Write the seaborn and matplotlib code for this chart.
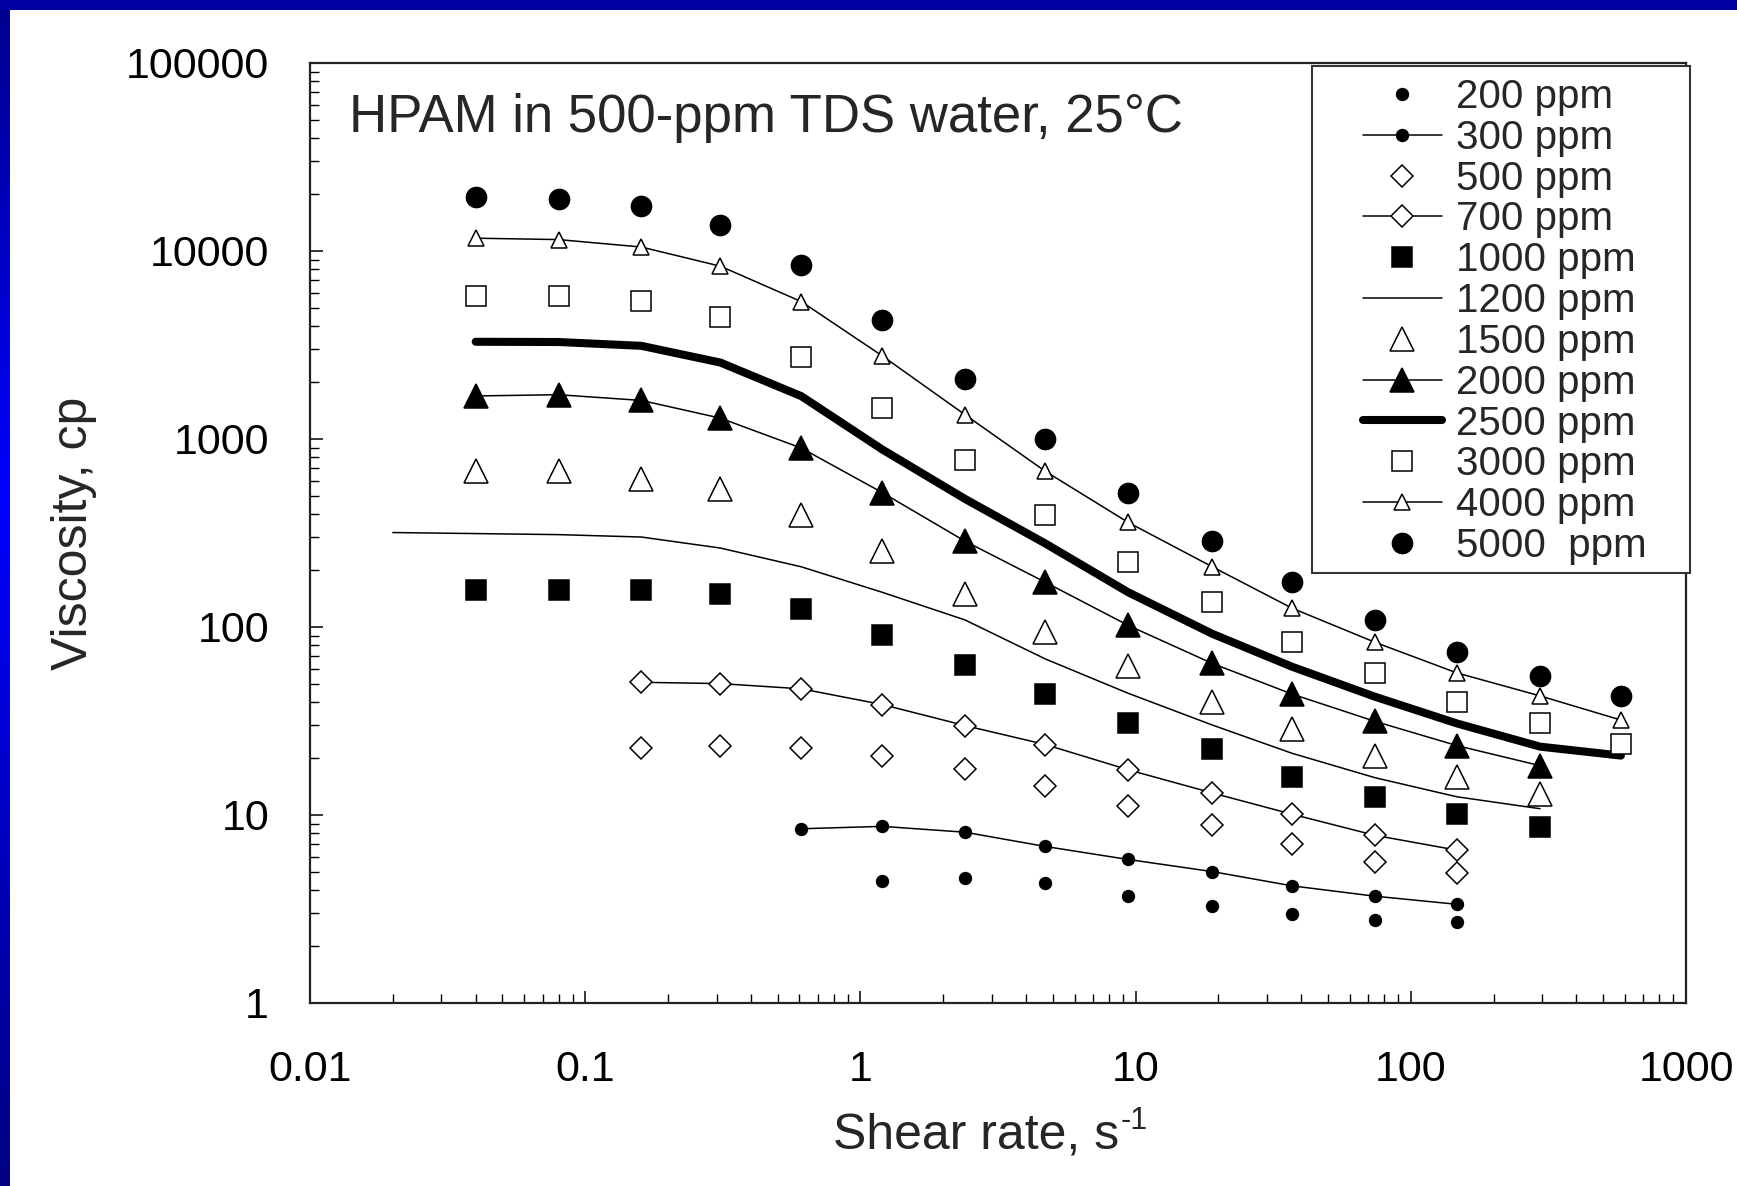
import numpy as np
import pandas as pd
import matplotlib
matplotlib.use("Agg")
import matplotlib.pyplot as plt
from matplotlib.colors import LinearSegmentedColormap
from matplotlib.patches import Rectangle
from matplotlib.ticker import LogLocator, NullFormatter
import seaborn as sns

# shear rates (1/s) used by the measurements
shear = [0.04, 0.08, 0.16, 0.31, 0.61, 1.2, 2.4, 4.7, 9.4, 19, 37, 74, 147, 295, 580]
shear_1200 = [0.02, 0.04, 0.08, 0.16, 0.31, 0.61, 1.2, 2.4, 4.7, 9.4, 19, 37, 74, 147, 295]

# viscosity (cp) per polymer concentration
visc_200 = [4.46, 4.64, 4.34, 3.7, 3.3, 2.97, 2.77, 2.70]
visc_300 = [8.45, 8.7, 8.1, 6.8, 5.8, 5.0, 4.2, 3.7, 3.35]
visc_500 = [22.8, 23.4, 22.8, 20.7, 17.6, 14.2, 11.2, 8.8, 7.0, 5.6, 4.9]
visc_700 = [50.8, 50.0, 46.9, 38.7, 29.9, 23.7, 17.4, 13.1, 10.1, 7.8, 6.5]
visc_1000 = [157, 157, 157, 149, 125, 91, 63, 44, 31, 22.5, 16, 12.4, 10.1, 8.6]
visc_1200 = [318, 314, 310, 301, 263, 209, 153, 109, 67.6, 44.4, 30.1, 21.3, 15.8, 12.5, 10.8]
visc_1500 = [673, 673, 611, 541, 395, 253, 149, 94, 62, 40, 28.7, 20.7, 16, 12.9]
visc_2000 = [1694, 1720, 1604, 1291, 895, 519, 286, 173, 102, 64, 44, 31.5, 23.4, 18.3]
visc_2500 = [3290, 3280, 3130, 2550, 1690, 880, 480, 278, 153, 92, 61.5, 42.6, 30.7, 23.1, 20.7]
visc_3000 = [5760, 5760, 5450, 4450, 2730, 1460, 770, 395, 223, 135, 83, 57, 40, 31, 24]
visc_4000 = [11700, 11500, 10500, 8300, 5380, 2770, 1346, 673, 360, 209, 126, 83, 57, 43, 32]
visc_5000 = [19300, 18800, 17300, 13700, 8430, 4270, 2080, 998, 519, 286, 173, 109, 74, 55, 43]

labels = ['200 ppm', '300 ppm', '500 ppm', '700 ppm', '1000 ppm', '1200 ppm',
          '1500 ppm', '2000 ppm', '2500 ppm', '3000 ppm', '4000 ppm', '5000  ppm']

series = [
    (shear[5:13], visc_200),
    (shear[4:13], visc_300),
    (shear[2:13], visc_500),
    (shear[2:13], visc_700),
    (shear[:14], visc_1000),
    (shear_1200, visc_1200),
    (shear[:14], visc_1500),
    (shear[:14], visc_2000),
    (shear, visc_2500),
    (shear, visc_3000),
    (shear, visc_4000),
    (shear, visc_5000),
]

frames = []
for lab, (xs, ys) in zip(labels, series):
    frames.append(pd.DataFrame({'shear': xs, 'visc': ys, 'conc': lab}))
datos = pd.concat(frames, ignore_index=True)

# (marker, size, face, line width, line style)
estilos = {
    '200 ppm': ('o', 8.5, 'black', 1.1, 'none'),
    '300 ppm': ('o', 8.5, 'black', 1.1, '-'),
    '500 ppm': ('D', 11, 'white', 1.1, 'none'),
    '700 ppm': ('D', 11, 'white', 1.1, '-'),
    '1000 ppm': ('s', 14, 'black', 1.1, 'none'),
    '1200 ppm': ('None', 0, 'black', 1.1, '-'),
    '1500 ppm': ('^', 17, 'white', 1.1, 'none'),
    '2000 ppm': ('^', 17, 'black', 1.1, '-'),
    '2500 ppm': ('None', 0, 'black', 5.8, '-'),
    '3000 ppm': ('s', 14, 'white', 1.1, 'none'),
    '4000 ppm': ('^', 11, 'white', 1.1, '-'),
    '5000  ppm': ('o', 14.5, 'black', 1.1, 'none'),
}

sns.set_style('ticks')
plt.rcParams['font.family'] = ['Liberation Sans', 'DejaVu Sans']

fig = plt.figure(figsize=(17.37, 11.86), dpi=100)
fig.patch.set_facecolor('white')
ax = fig.add_axes([310 / 1737, 1 - 1003 / 1186, 1376 / 1737, 940 / 1186])
ax.set_xscale('log')
ax.set_yscale('log')

for lab in labels:
    sub = datos[datos['conc'] == lab]
    mk, ms, fc, lw, ls = estilos[lab]
    sns.lineplot(data=sub, x='shear', y='visc', ax=ax, sort=False, estimator=None,
                 color='black', marker=mk, markersize=ms, markerfacecolor=fc,
                 markeredgecolor='black', markeredgewidth=1.1, linewidth=lw,
                 linestyle=ls, label=lab)

ax.set_xlim(0.01, 1000)
ax.set_ylim(1, 100000)
ax.set_xticks([0.01, 0.1, 1, 10, 100, 1000])
ax.set_xticklabels(['0.01', '0.1', '1', '10', '100', '1000'])
ax.set_yticks([1, 10, 100, 1000, 10000, 100000])
ax.set_yticklabels(['1', '10', '100', '1000', '10000', '100000'])
ax.xaxis.set_minor_locator(LogLocator(base=10, subs=np.arange(2, 10), numticks=20))
ax.yaxis.set_minor_locator(LogLocator(base=10, subs=np.arange(2, 10), numticks=20))
ax.xaxis.set_minor_formatter(NullFormatter())
ax.yaxis.set_minor_formatter(NullFormatter())

ax.tick_params(which='both', direction='in', top=False, right=False, colors='black')
ax.tick_params(which='major', length=9, width=1.1, labelsize=31)
ax.tick_params(which='minor', length=6.5, width=1.0)
ax.tick_params(axis='x', which='major', pad=34)
ax.tick_params(axis='y', which='major', pad=29.5)
for sp in ax.spines.values():
    sp.set_linewidth(1.6)
    sp.set_color('#222222')

ax.set_xlabel('Shear rate, s', fontsize=36)
ax.set_ylabel('Viscosity, cp', fontsize=36)
ax.xaxis.set_label_coords(0.484, -0.117)
ax.yaxis.set_label_coords(-0.155, 0.5)
# superscript "-1" after the x label
ax.annotate('-1', xy=(1.0, 1.0), xycoords=ax.xaxis.label, xytext=(1, 5),
            textcoords='offset points', fontsize=22, ha='left', va='top')

ax.text(0.028, 0.942, 'HPAM in 500-ppm TDS water, 25°C', transform=ax.transAxes,
        fontsize=38, va='center', ha='left')

# legend box drawn separately (wide side padding as in the original)
caja = Rectangle((1312 / 1737, 1 - 573 / 1186), 378 / 1737, 507 / 1186,
                 transform=fig.transFigure, facecolor='white', edgecolor='#333333',
                 linewidth=1.5, clip_on=False, zorder=4.5)
ax.add_patch(caja)
leg = ax.legend(loc='upper left', bbox_to_anchor=(1363 / 1737, 1 - 78 / 1186),
                bbox_transform=fig.transFigure, borderaxespad=0, borderpad=0,
                fontsize=29, numpoints=1, handlelength=1.95, handletextpad=0.35,
                labelspacing=0.07, frameon=False)
leg.set_zorder(5)

# blue slide frame (top and left edge)
banda = LinearSegmentedColormap.from_list(
    'banda', [(0, '#00008C'), (0.42, '#0000FF'), (1, '#000080')])
ax_banda = fig.add_axes([0, 0, 10 / 1737, 1])
ax_banda.imshow(np.linspace(0, 1, 256)[:, None], aspect='auto', cmap=banda)
ax_banda.set_axis_off()
fig.add_artist(Rectangle((0, 1 - 10 / 1186), 1, 10 / 1186, transform=fig.transFigure,
                         facecolor='#0000A0', edgecolor='none'))

fig.savefig('out.png', dpi=100)
plt.close(fig)
